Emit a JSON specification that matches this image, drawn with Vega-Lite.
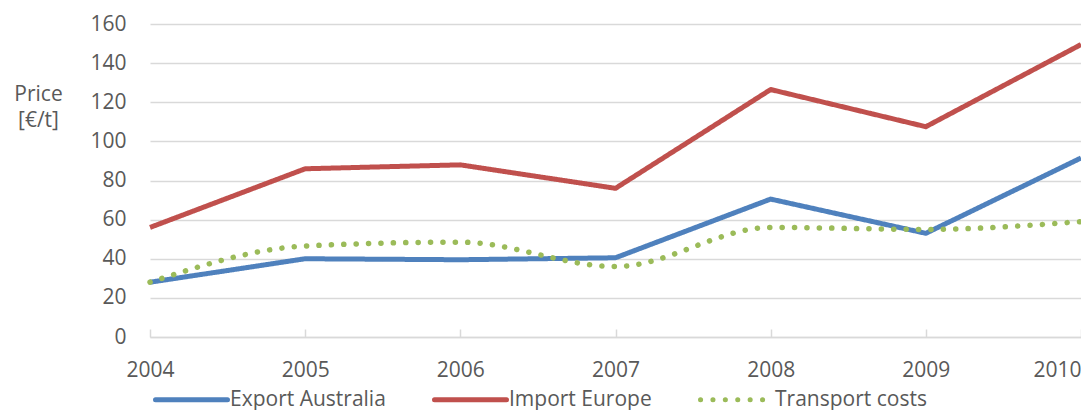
{
  "$schema": "https://vega.github.io/schema/vega-lite/v6.json",
  "autosize": "none",
  "padding": {"left": 150, "top": 24, "right": 0, "bottom": 73},
  "width": 931,
  "height": 313,
  "background": "white",
  "config": {
    "view": {"stroke": null},
    "font": "Open Sans",
    "axis": {
      "labelFont": "Open Sans",
      "labelFontSize": 21,
      "labelColor": "#595959",
      "titleFont": "Open Sans",
      "titleFontSize": 21,
      "titleFontWeight": "normal",
      "titleColor": "#595959"
    },
    "legend": {
      "labelFont": "Open Sans",
      "labelFontSize": 21,
      "labelColor": "#595959"
    }
  },
  "data": {
    "values": [
      {"year": 2004, "series": "Export Australia", "price": 28},
      {"year": 2005, "series": "Export Australia", "price": 40},
      {"year": 2006, "series": "Export Australia", "price": 39.5},
      {"year": 2007, "series": "Export Australia", "price": 40.5},
      {"year": 2008, "series": "Export Australia", "price": 70.5},
      {"year": 2009, "series": "Export Australia", "price": 53},
      {"year": 2010, "series": "Export Australia", "price": 91.5},
      {"year": 2004, "series": "Import Europe", "price": 56},
      {"year": 2005, "series": "Import Europe", "price": 86},
      {"year": 2006, "series": "Import Europe", "price": 88},
      {"year": 2007, "series": "Import Europe", "price": 76},
      {"year": 2008, "series": "Import Europe", "price": 126.5},
      {"year": 2009, "series": "Import Europe", "price": 107.5},
      {"year": 2010, "series": "Import Europe", "price": 149.5},
      {"year": 2004, "series": "Transport costs", "price": 28},
      {"year": 2005, "series": "Transport costs", "price": 46.5},
      {"year": 2006, "series": "Transport costs", "price": 48.5},
      {"year": 2007, "series": "Transport costs", "price": 36},
      {"year": 2008, "series": "Transport costs", "price": 56},
      {"year": 2009, "series": "Transport costs", "price": 55},
      {"year": 2010, "series": "Transport costs", "price": 59}
    ]
  },
  "encoding": {
    "x": {
      "field": "year",
      "type": "quantitative",
      "scale": {"domain": [2004, 2010], "nice": false, "zero": false},
      "axis": {
        "title": null,
        "values": [2004, 2005, 2006, 2007, 2008, 2009, 2010],
        "format": "d",
        "grid": false,
        "domainColor": "#d9d9d9",
        "domainWidth": 1.5,
        "tickColor": "#d9d9d9",
        "tickWidth": 1.5,
        "tickSize": -8,
        "labelPadding": 30,
        "labelAlign": {"condition": {"test": "datum.value == 2010", "value": "right"}, "value": "center"},
        "labelBaseline": "top"
      }
    },
    "y": {
      "field": "price",
      "type": "quantitative",
      "scale": {"domain": [0, 160], "nice": false},
      "axis": {
        "title": ["Price", "[€/t]"],
        "titleAngle": 0,
        "titleAlign": "center",
        "titleBaseline": "alphabetic",
        "titleX": -112,
        "titleY": 76,
        "titleLineHeight": 26,
        "values": [0, 20, 40, 60, 80, 100, 120, 140, 160],
        "domain": false,
        "ticks": false,
        "labelPadding": 24,
        "gridColor": "#d9d9d9",
        "gridWidth": 1.5
      }
    },
    "color": {
      "field": "series",
      "type": "nominal",
      "scale": {
        "domain": ["Export Australia", "Import Europe", "Transport costs"],
        "range": ["#4F81BD", "#C0504D", "#9BBB59"]
      },
      "legend": {
        "title": null,
        "orient": "none",
        "direction": "horizontal",
        "legendX": 3,
        "legendY": 337,
        "symbolType": "stroke",
        "symbolSize": 5184,
        "symbolStrokeWidth": 5,
        "labelOffset": 0,
        "columnPadding": 38,
        "encode": {"symbols": {"update": {"strokeCap": {"value": "round"}}}}
      }
    },
    "strokeDash": {
      "field": "series",
      "type": "nominal",
      "scale": {
        "domain": ["Export Australia", "Import Europe", "Transport costs"],
        "range": [[1, 0], [1, 0], [0.1, 12.3]]
      },
      "legend": {
        "title": null,
        "orient": "none",
        "direction": "horizontal",
        "legendX": 3,
        "legendY": 337,
        "symbolType": "stroke",
        "symbolSize": 5184,
        "symbolStrokeWidth": 5,
        "labelOffset": 0,
        "columnPadding": 38,
        "encode": {"symbols": {"update": {"strokeCap": {"value": "round"}}}}
      }
    }
  },
  "layer": [
    {
      "transform": [{"filter": "datum.series != 'Transport costs'"}],
      "mark": {"type": "line", "strokeWidth": 5, "strokeJoin": "round", "strokeCap": "butt"}
    },
    {
      "transform": [{"filter": "datum.series == 'Transport costs'"}],
      "mark": {"type": "line", "strokeWidth": 5.5, "strokeCap": "round", "interpolate": "monotone"}
    }
  ]
}
